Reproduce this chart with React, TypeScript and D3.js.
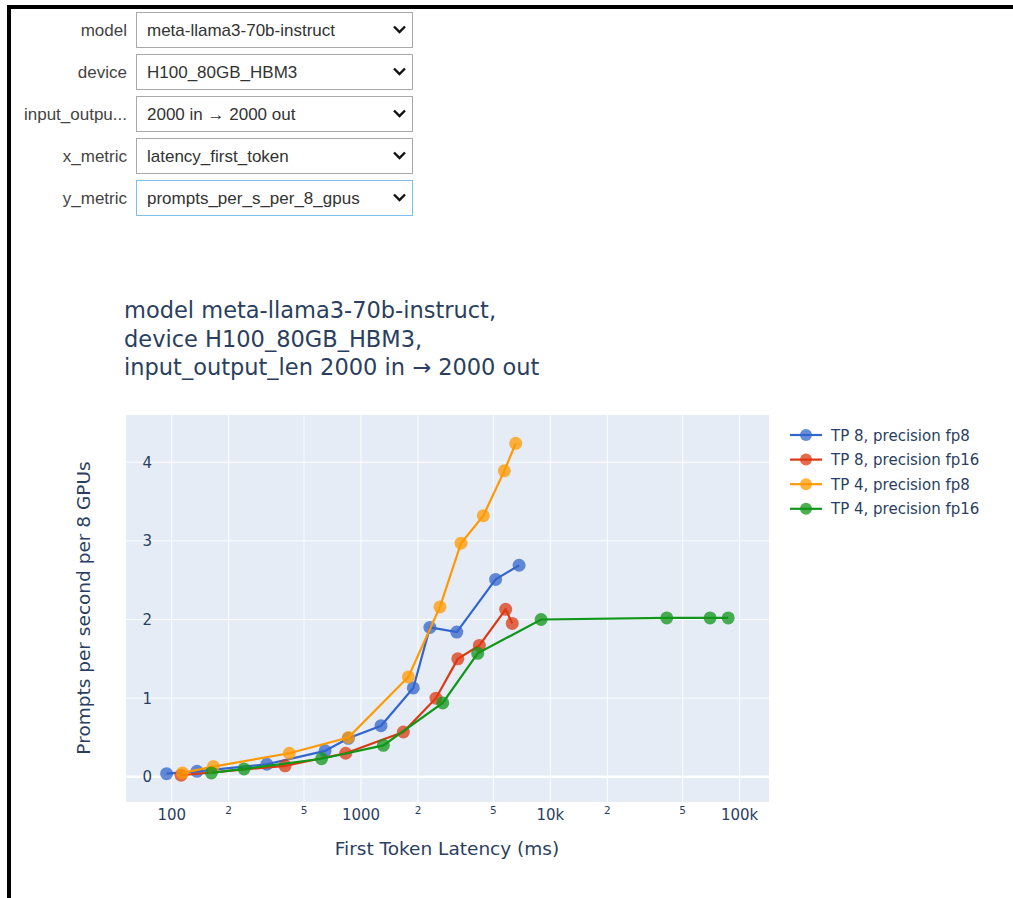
import React from "react";
import * as d3 from "d3";

// ---- Data ----
const seriesNames = ["TP 8, precision fp8", "TP 8, precision fp16", "TP 4, precision fp8", "TP 4, precision fp16"];
const seriesColors = ["#3366CC", "#DC3912", "#FF9900", "#109618"];

const tp8fp8X = [94, 136, 318, 646, 857, 1276, 1889, 2311, 3205, 5140, 6838];
const tp8fp8Y = [0.04, 0.07, 0.16, 0.33, 0.49, 0.65, 1.13, 1.9, 1.84, 2.51, 2.69];

const tp8fp16X = [112, 397, 830, 1674, 2488, 3246, 4218, 5807, 6293];
const tp8fp16Y = [0.02, 0.14, 0.3, 0.57, 1.0, 1.5, 1.67, 2.13, 1.95];

const tp4fp8X = [114, 166, 418, 857, 1778, 2612, 3375, 4426, 5716, 6562];
const tp4fp8Y = [0.05, 0.13, 0.3, 0.5, 1.27, 2.16, 2.97, 3.32, 3.89, 4.24];

const tp4fp16X = [162, 241, 619, 1312, 2702, 4133, 8935, 41200, 69800, 87000];
const tp4fp16Y = [0.05, 0.1, 0.23, 0.4, 0.94, 1.57, 2.0, 2.02, 2.02, 2.02];

const xMajorTicks = [100, 1000, 10000, 100000];
const xMajorLabels = ["100", "1000", "10k", "100k"];
const xMinorTicks = [200, 500, 2000, 5000, 20000, 50000];
const xMinorLabels = ["2", "5", "2", "5", "2", "5"];
const yTicks = [0, 1, 2, 3, 4];

const dropdownLabels = ["model", "device", "input_outpu...", "x_metric", "y_metric"];
const dropdownValues = ["meta-llama3-70b-instruct", "H100_80GB_HBM3", "2000 in \u2192 2000 out", "latency_first_token", "prompts_per_s_per_8_gpus"];

const titleLines = ["model meta-llama3-70b-instruct,", "device H100_80GB_HBM3,", "input_output_len 2000 in \u2192 2000 out"];

const xDomain = [57.36, 142900];
const yDomain = [-0.32, 4.6];

export default function App() {
  const L = 126, R = 769, T = 415, B = 802;
  const x = d3.scaleLog().domain(xDomain).range([L, R]);
  const y = d3.scaleLinear().domain(yDomain).range([B, T]);
  const line = d3.line<[number, number]>().x(d => x(d[0])).y(d => y(d[1]));

  const series = [
    { xs: tp8fp8X, ys: tp8fp8Y },
    { xs: tp8fp16X, ys: tp8fp16Y },
    { xs: tp4fp8X, ys: tp4fp8Y },
    { xs: tp4fp16X, ys: tp4fp16Y },
  ];

  const font = "'DejaVu Sans', Verdana, sans-serif";
  const fc = "#2a3f5f";
  const uiFont = "'Liberation Sans', Arial, sans-serif";

  return (
    <svg width={1013} height={898} style={{ position: "absolute", left: 0, top: 0 }}>
      <rect x={0} y={0} width={1013} height={898} fill="#fff" />
      {/* frame */}
      <rect x={7} y={5} width={1006} height={4} fill="#000" />
      <rect x={7} y={5} width={4} height={893} fill="#000" />

      {/* dropdowns */}
      {dropdownLabels.map((lab, i) => {
        const top = 12 + i * 42;
        const cy = top + 17.5;
        const focused = i === 4;
        return (
          <g key={lab}>
            <text x={127} y={cy + 6} textAnchor="end" fontFamily={uiFont} fontSize={17} fill="#444">{lab}</text>
            <rect x={136.5} y={top + 0.5} width={276} height={35} fill="#fff" stroke={focused ? "#7fc0ea" : "#a9a9a9"} strokeWidth={1} />
            <text x={147} y={cy + 6} fontFamily={uiFont} fontSize={17} fill="#333">{dropdownValues[i]}</text>
            <path d={`M${394},${cy - 3} L${399.5},${cy + 2.5} L${405},${cy - 3}`} fill="none" stroke="#111" strokeWidth={2.4} />
          </g>
        );
      })}

      {/* title */}
      {titleLines.map((t, i) => (
        <text key={i} x={124} y={318 + i * 28.5} fontFamily={font} fontSize={22.5} fill={fc}>{t}</text>
      ))}

      {/* plot background */}
      <rect x={L} y={T} width={R - L} height={B - T} fill="#E5ECF6" />
      {[...xMajorTicks, ...xMinorTicks].map(v => (
        <line key={"gx" + v} x1={x(v)} x2={x(v)} y1={T} y2={B} stroke="#fff" strokeWidth={1} />
      ))}
      {yTicks.map(v => (
        <line key={"gy" + v} x1={L} x2={R} y1={y(v)} y2={y(v)} stroke="#fff" strokeWidth={v === 0 ? 2.5 : 1} />
      ))}

      {/* series */}
      {series.map((s, i) => {
        const pts = s.xs.map((xv, j) => [xv, s.ys[j]] as [number, number]);
        return (
          <g key={i}>
            <path d={line(pts) || ""} fill="none" stroke={seriesColors[i]} strokeWidth={2.2} />
            {pts.map((p, j) => (
              <circle key={j} cx={x(p[0])} cy={y(p[1])} r={6.5} fill={seriesColors[i]} fillOpacity={0.75} />
            ))}
          </g>
        );
      })}

      {/* axes labels */}
      {xMajorTicks.map((v, i) => (
        <text key={"xl" + v} x={x(v)} y={820} textAnchor="middle" fontFamily={font} fontSize={15} fill={fc}>{xMajorLabels[i]}</text>
      ))}
      {xMinorTicks.map((v, i) => (
        <text key={"xm" + v} x={x(v)} y={814} textAnchor="middle" fontFamily={font} fontSize={10.5} fill={fc}>{xMinorLabels[i]}</text>
      ))}
      {yTicks.map(v => (
        <text key={"yl" + v} x={152} y={y(v) + 5.5} textAnchor="end" fontFamily={font} fontSize={15} fill={fc}>{v}</text>
      ))}
      <text x={(L + R) / 2 - 0.5} y={855} textAnchor="middle" fontFamily={font} fontSize={18.5} fill={fc}>First Token Latency (ms)</text>
      <text transform={`translate(90,608) rotate(-90)`} textAnchor="middle" fontFamily={font} fontSize={18.5} fill={fc}>Prompts per second per 8 GPUs</text>

      {/* legend */}
      {seriesNames.map((n, i) => {
        const ly = 435 + i * 24.6;
        return (
          <g key={n}>
            <line x1={790} x2={822} y1={ly} y2={ly} stroke={seriesColors[i]} strokeWidth={2.2} />
            <circle cx={806} cy={ly} r={6} fill={seriesColors[i]} fillOpacity={0.75} />
            <text x={831} y={ly + 5.5} fontFamily={font} fontSize={15} fill={fc}>{n}</text>
          </g>
        );
      })}
    </svg>
  );
}
